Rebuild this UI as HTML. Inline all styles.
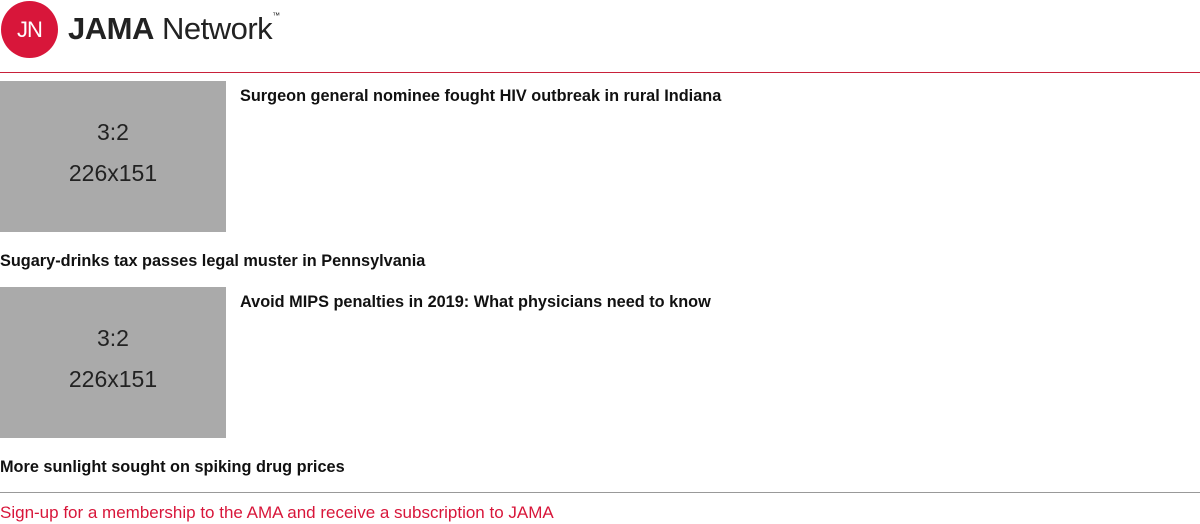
<!DOCTYPE html>
<html><head><meta charset="utf-8"><style>
body{margin:0;width:1200px;height:524px;background:#fff;font-family:"Liberation Sans",sans-serif;position:relative;overflow:hidden}
.abs{position:absolute}
.ph{background:#aaa;width:226px;height:151px;color:#222;font-size:23px;text-align:center;line-height:41px;box-sizing:border-box;padding-top:31px}
.t{font-weight:bold;font-size:16.3px;color:#111;white-space:nowrap}
</style></head><body>
<div class="abs" style="left:0;top:0;width:300px;height:60px">
  <div class="abs" style="left:1px;top:1px;width:57px;height:57px;border-radius:50%;background:#d8163a;color:#fff;font-size:22px;line-height:57px;text-align:center;letter-spacing:-1px">JN</div>
  <div class="abs" style="left:68px;top:11px;font-size:31px;color:#222;letter-spacing:-0.5px;white-space:nowrap"><b>JAMA</b> Network<span style="font-size:8px;vertical-align:top">™</span></div>
</div>
<div class="abs" style="left:0;top:72px;width:1200px;height:1px;background:#c8213a"></div>
<div class="abs ph" style="left:0;top:81px">3:2<br>226x151</div>
<div class="abs t" style="left:240px;top:87px">Surgeon general nominee fought HIV outbreak in rural Indiana</div>
<div class="abs t" style="left:0;top:252px">Sugary-drinks tax passes legal muster in Pennsylvania</div>
<div class="abs ph" style="left:0;top:287px">3:2<br>226x151</div>
<div class="abs t" style="left:240px;top:293px">Avoid MIPS penalties in 2019: What physicians need to know</div>
<div class="abs t" style="left:0;top:458px">More sunlight sought on spiking drug prices</div>
<div class="abs" style="left:0;top:492px;width:1200px;height:1px;background:#999"></div>
<div class="abs" style="left:0;top:503px;font-size:17px;color:#d8163a;white-space:nowrap">Sign-up for a membership to the AMA and receive a subscription to JAMA</div>
</body></html>
